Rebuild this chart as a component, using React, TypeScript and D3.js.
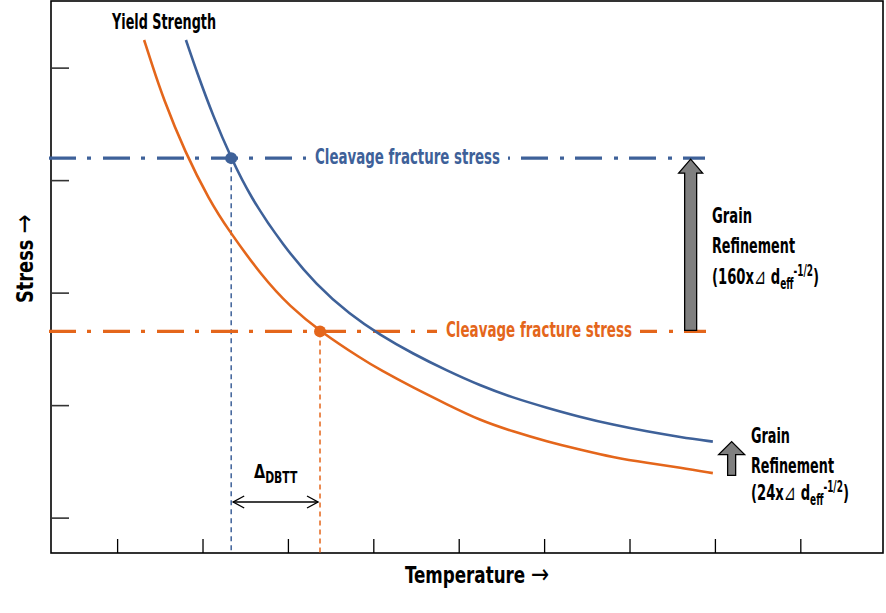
import React from 'react';
import * as d3 from 'd3';

// yield strength curves (temperature / stress in tick units)
const blueTemp = [1.80, 1.93, 2.12, 2.33, 2.55, 2.94, 3.33, 3.72, 4.07, 4.46, 4.86, 5.24, 5.63, 6.03, 6.41, 6.80, 7.20, 7.59, 7.97];
const blueStress = [5.25, 4.96, 4.57, 4.20, 3.86, 3.42, 3.07, 2.81, 2.63, 2.46, 2.31, 2.18, 2.07, 1.98, 1.90, 1.83, 1.77, 1.72, 1.68];
const orangeTemp = [1.31, 1.40, 1.53, 1.79, 2.08, 2.28, 2.70, 3.02, 3.37, 3.87, 4.07, 4.46, 4.86, 5.24, 5.63, 6.03, 6.41, 6.80, 7.20, 7.59, 7.97];
const orangeStress = [5.25, 5.04, 4.74, 4.25, 3.82, 3.58, 3.14, 2.88, 2.66, 2.41, 2.32, 2.16, 2.01, 1.87, 1.77, 1.68, 1.61, 1.54, 1.49, 1.45, 1.40];

// cleavage fracture stress levels and the transition temperatures
const cleavageStress = [4.20, 2.66];
const transitionTemp = [2.33, 3.37];
const bigArrowTemp = 7.71;
const smallArrowTemp = 8.19;
const smallArrowStress = [1.38, 1.68];

const xTicks = [1, 2, 3, 4, 5, 6, 7, 8, 9];
const yTicks = [1, 2, 3, 4, 5];

const BLUE = '#3E6199';
const ORANGE = '#E4661B';
const FONT = "'DejaVu Sans Condensed', 'DejaVu Sans', sans-serif";
const ARROW_FONT = "'DejaVu Sans', sans-serif";

const W = 886;
const H = 613;
const left = 51;
const right = 883;
const top = 1;
const bottom = 553;

// dash-dot segments [x1, x2] for each cleavage line (gap left for the label)
const blueSegs = [[49, 306], [705, 508]];
const orangeSegs = [[49, 437], [706, 640]];

const Formula: React.FC<{ x: number; y: number; num: string }> = ({ x, y, num }) => (
  <text transform={`translate(${x},${y}) scale(0.665,1)`} fill="#000" fontFamily={FONT} fontWeight="bold" fontSize={22}>
    {num}
    <tspan fontWeight="normal" fontFamily={ARROW_FONT}>⊿</tspan>
    {' d'}
    <tspan fontSize={15} dy={5}>eff</tspan>
    <tspan fontSize={15} dy={-13}>-1/2</tspan>
    <tspan dy={8}>)</tspan>
  </text>
);

const App: React.FC = () => {
  const x = d3.scaleLinear().domain([0.22, 9.97]).range([left, left + 85.4 * 9.75]);
  const y = d3.scaleLinear().domain([0.69, 0.69 + 553 / 112.5]).range([bottom, 0]);

  const line = d3.line<[number, number]>()
    .x(d => x(d[0]))
    .y(d => y(d[1]))
    .curve(d3.curveBasis);

  const bluePts = blueTemp.map((t, i) => [t, blueStress[i]] as [number, number]);
  const orangePts = orangeTemp.map((t, i) => [t, orangeStress[i]] as [number, number]);
  const colors = [BLUE, ORANGE];
  const segs = [blueSegs, orangeSegs];

  // big grain refinement arrow
  const bx = x(bigArrowTemp);
  const bTip = y(cleavageStress[0]) + 1;
  const bBase = y(cleavageStress[1]) - 1;
  const bigArrow = `M${bx - 6},${bBase} L${bx - 6},${bTip + 14} L${bx - 12},${bTip + 14} L${bx},${bTip} L${bx + 12},${bTip + 14} L${bx + 6},${bTip + 14} L${bx + 6},${bBase} Z`;

  const sx = x(smallArrowTemp);
  const sTip = y(smallArrowStress[1]);
  const sBase = y(smallArrowStress[0]);
  const smallArrow = `M${sx - 4},${sBase} L${sx - 4},${sTip + 13} L${sx - 13},${sTip + 13} L${sx},${sTip} L${sx + 13},${sTip + 13} L${sx + 4},${sTip + 13} L${sx + 4},${sBase} Z`;

  const dx1 = x(transitionTemp[0]) + 2;
  const dx2 = x(transitionTemp[1]) - 2;
  const dy = 502;

  return (
    <svg width={W} height={H} style={{ position: 'absolute', left: 0, top: 0, background: '#fff' }}>
      {/* frame */}
      <rect x={left} y={top} width={right - left} height={bottom - top} fill="none" stroke="#000" strokeWidth={1.6} />

      {/* ticks */}
      {xTicks.map(t => (
        <line key={'x' + t} x1={x(t)} x2={x(t)} y1={bottom} y2={bottom - 14} stroke="#000" strokeWidth={1.3} />
      ))}
      {yTicks.map(t => (
        <line key={'y' + t} x1={left} x2={left + 18} y1={y(t)} y2={y(t)} stroke="#333" strokeWidth={1.6} />
      ))}

      {/* cleavage fracture stress lines */}
      {cleavageStress.map((s, i) => (
        <g key={'c' + i}>
          <line x1={segs[i][0][0]} x2={segs[i][0][1]} y1={y(s)} y2={y(s)} stroke={colors[i]} strokeWidth={3.2}
            strokeDasharray="27 11 4 12" />
          <line x1={segs[i][1][0]} x2={segs[i][1][1]} y1={y(s)} y2={y(s)} stroke={colors[i]} strokeWidth={3.2}
            strokeDasharray="27 11 4 12" strokeDashoffset={5} />
          <line x1={x(transitionTemp[i])} x2={x(transitionTemp[i])} y1={y(s)} y2={bottom} stroke={colors[i]}
            strokeWidth={1.5} strokeDasharray="5 4" />
        </g>
      ))}

      {/* yield strength curves */}
      <path d={line(bluePts) || ''} fill="none" stroke={BLUE} strokeWidth={2.6} />
      <path d={line(orangePts) || ''} fill="none" stroke={ORANGE} strokeWidth={2.6} />

      {cleavageStress.map((s, i) => (
        <circle key={'p' + i} cx={x(transitionTemp[i])} cy={y(s)} r={6} fill={colors[i]} />
      ))}

      {/* arrows */}
      <path d={bigArrow} fill="#7f7f7f" stroke="#000" strokeWidth={1.3} />
      <path d={smallArrow} fill="#7f7f7f" stroke="#000" strokeWidth={1.3} />

      {/* delta DBTT */}
      <line x1={dx1} x2={dx2} y1={dy} y2={dy} stroke="#000" strokeWidth={1.4} />
      <path d={`M${dx1 + 11},${dy - 6} L${dx1},${dy} L${dx1 + 11},${dy + 6}`} fill="none" stroke="#000" strokeWidth={1.4} />
      <path d={`M${dx2 - 11},${dy - 6} L${dx2},${dy} L${dx2 - 11},${dy + 6}`} fill="none" stroke="#000" strokeWidth={1.4} />

      <g fontFamily={FONT} fontWeight="bold">
        <text transform="translate(254,478) scale(0.8,1)" fontSize={20} fill="#000">Δ<tspan fontSize={15} dy={5}>DBTT</tspan></text>

        <text x={112} y={29} fontSize={22} fill="#000" textLength={104} lengthAdjust="spacingAndGlyphs">Yield Strength</text>

        <text x={315} y={164} fontSize={22} fill={BLUE} textLength={185} lengthAdjust="spacingAndGlyphs">Cleavage fracture stress</text>
        <text x={446} y={337} fontSize={22} fill={ORANGE} textLength={186} lengthAdjust="spacingAndGlyphs">Cleavage fracture stress</text>

        <g fill="#000" fontSize={22}>
          <text x={712} y={223} textLength={40} lengthAdjust="spacingAndGlyphs">Grain</text>
          <text x={712} y={253} textLength={83} lengthAdjust="spacingAndGlyphs">Refinement</text>
          <text x={751} y={443} textLength={39} lengthAdjust="spacingAndGlyphs">Grain</text>
          <text x={751} y={473} textLength={83} lengthAdjust="spacingAndGlyphs">Refinement</text>
        </g>

        <text transform="translate(405,583) scale(0.81,1)" fontSize={23} fill="#000">
          Temperature <tspan fontWeight="normal" fontFamily={ARROW_FONT} fontSize={27}>→</tspan>
        </text>
        <text transform="translate(33,303) rotate(-90) scale(0.86,1)" fontSize={23} fill="#000">
          Stress <tspan fontWeight="normal" fontFamily={ARROW_FONT} fontSize={27}>→</tspan>
        </text>
      </g>

      <Formula x={712} y={284} num="(160x" />
      <Formula x={751} y={500} num="(24x" />
    </svg>
  );
};

export default App;
